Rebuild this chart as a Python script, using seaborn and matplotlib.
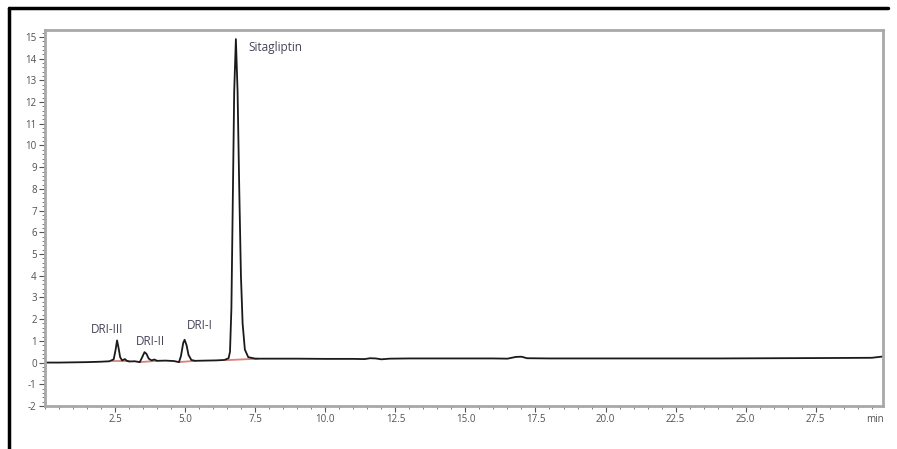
import numpy as np
import pandas as pd
import matplotlib
matplotlib.use("Agg")
import matplotlib.pyplot as plt
from matplotlib.lines import Line2D
from matplotlib.ticker import MultipleLocator
import seaborn as sns

sns.set_style("white")
plt.rcParams['font.family'] = ['Open Sans', 'DejaVu Sans']

# chromatogram trace (time in min, signal)
time_min = [0.0, 0.5, 1.0, 1.5, 2.0, 2.3, 2.45, 2.52, 2.57, 2.62, 2.68, 2.75, 2.85, 2.92,
            3.0, 3.2, 3.38, 3.45, 3.55, 3.62, 3.70, 3.80, 3.90, 4.0, 4.3, 4.6, 4.78,
            4.85, 4.93, 4.98, 5.05, 5.12, 5.22, 5.35, 5.7, 6.1, 6.4, 6.55, 6.60, 6.65,
            6.70, 6.75, 6.81, 6.87, 6.93, 6.99, 7.05, 7.13, 7.25, 7.5, 8.0, 9.0, 10.0,
            11.0, 11.4, 11.6, 11.8, 12.0, 12.3, 13.0, 14.0, 15.0, 16.0, 16.5, 16.8,
            17.0, 17.2, 18.0, 20.0, 22.0, 24.0, 26.0, 28.0, 29.5, 29.9]
signal = [0.00, 0.00, 0.01, 0.02, 0.04, 0.06, 0.15, 0.60, 1.02, 0.70, 0.25, 0.10, 0.16, 0.08,
          0.05, 0.06, 0.02, 0.20, 0.48, 0.40, 0.18, 0.10, 0.14, 0.08, 0.09, 0.07, 0.02,
          0.30, 0.90, 1.05, 0.80, 0.35, 0.12, 0.08, 0.09, 0.10, 0.12, 0.20, 0.50, 2.5,
          7.5, 12.5, 14.9, 12.5, 8.0, 4.0, 1.8, 0.6, 0.25, 0.18, 0.18, 0.18, 0.17,
          0.17, 0.16, 0.20, 0.19, 0.15, 0.18, 0.19, 0.19, 0.19, 0.19, 0.18, 0.26,
          0.27, 0.20, 0.19, 0.19, 0.19, 0.19, 0.20, 0.21, 0.22, 0.28]

# integration baselines (start/end time and signal)
base_t0 = [2.40, 3.38, 4.78, 6.45]
base_t1 = [3.00, 4.00, 5.35, 7.60]
base_y0 = [0.05, 0.02, 0.02, 0.11]
base_y1 = [0.05, 0.08, 0.08, 0.18]

# peak labels
peak_names = ['DRI-III', 'DRI-II', 'DRI-I', 'Sitagliptin']
label_x = [2.23, 3.75, 5.54, 7.25]
label_y = [1.51, 0.97, 1.70, 14.5]
label_ha = ['center', 'center', 'center', 'left']

xticks = [2.5, 5.0, 7.5, 10.0, 12.5, 15.0, 17.5, 20.0, 22.5, 25.0, 27.5]
yticks = list(range(-2, 16))

df = pd.DataFrame({'time': time_min, 'signal': signal})

fig = plt.figure(figsize=(8.97, 4.49), dpi=100)
ax = fig.add_axes([0.0502, 0.0958, 0.9342, 0.8374])

sns.lineplot(data=df, x='time', y='signal', ax=ax, color='#1a1a1a', linewidth=1.3,
             sort=False, estimator=None)
for t0, t1, y0, y1 in zip(base_t0, base_t1, base_y0, base_y1):
    ax.plot([t0, t1], [y0, y1], color='#e07f7a', linewidth=1.3, zorder=1)

for name, x, y, ha in zip(peak_names, label_x, label_y, label_ha):
    ax.text(x, y, name, ha=ha, va='center', fontsize=8.5, color='#454558')

ax.set_xlim(0, 29.9)
ax.set_ylim(-2, 15.32)
ax.set_xticks(xticks)
ax.set_xticklabels([f'{v:.1f}' for v in xticks])
ax.set_yticks(yticks)
ax.set_yticklabels([str(v) for v in yticks])
ax.xaxis.set_minor_locator(MultipleLocator(0.5))
ax.yaxis.set_minor_locator(MultipleLocator(0.2))
ax.tick_params(axis='both', which='major', labelsize=7, labelcolor='#505050',
               color='#555555', length=4, width=0.8, direction='out', pad=2,
               bottom=True, left=True)
ax.tick_params(axis='both', which='minor', color='#666666', length=2, width=0.6,
               direction='out', bottom=True, left=True)
ax.text(0.99, -0.022, 'min', transform=ax.transAxes, ha='center', va='top',
        fontsize=7, color='#505050')
ax.set_xlabel('')
ax.set_ylabel('')
for sp in ax.spines.values():
    sp.set_color('#a8a8a8')
    sp.set_linewidth(2.0)

# outer frame (top and left edges)
fig.add_artist(Line2D([0.0095, 0.99], [0.982, 0.982], color='black', linewidth=2.5,
                      transform=fig.transFigure))
fig.add_artist(Line2D([0.0095, 0.0095], [0.0, 0.982], color='black', linewidth=2.5,
                      transform=fig.transFigure))

fig.savefig('out.png', dpi=100, facecolor='white')
